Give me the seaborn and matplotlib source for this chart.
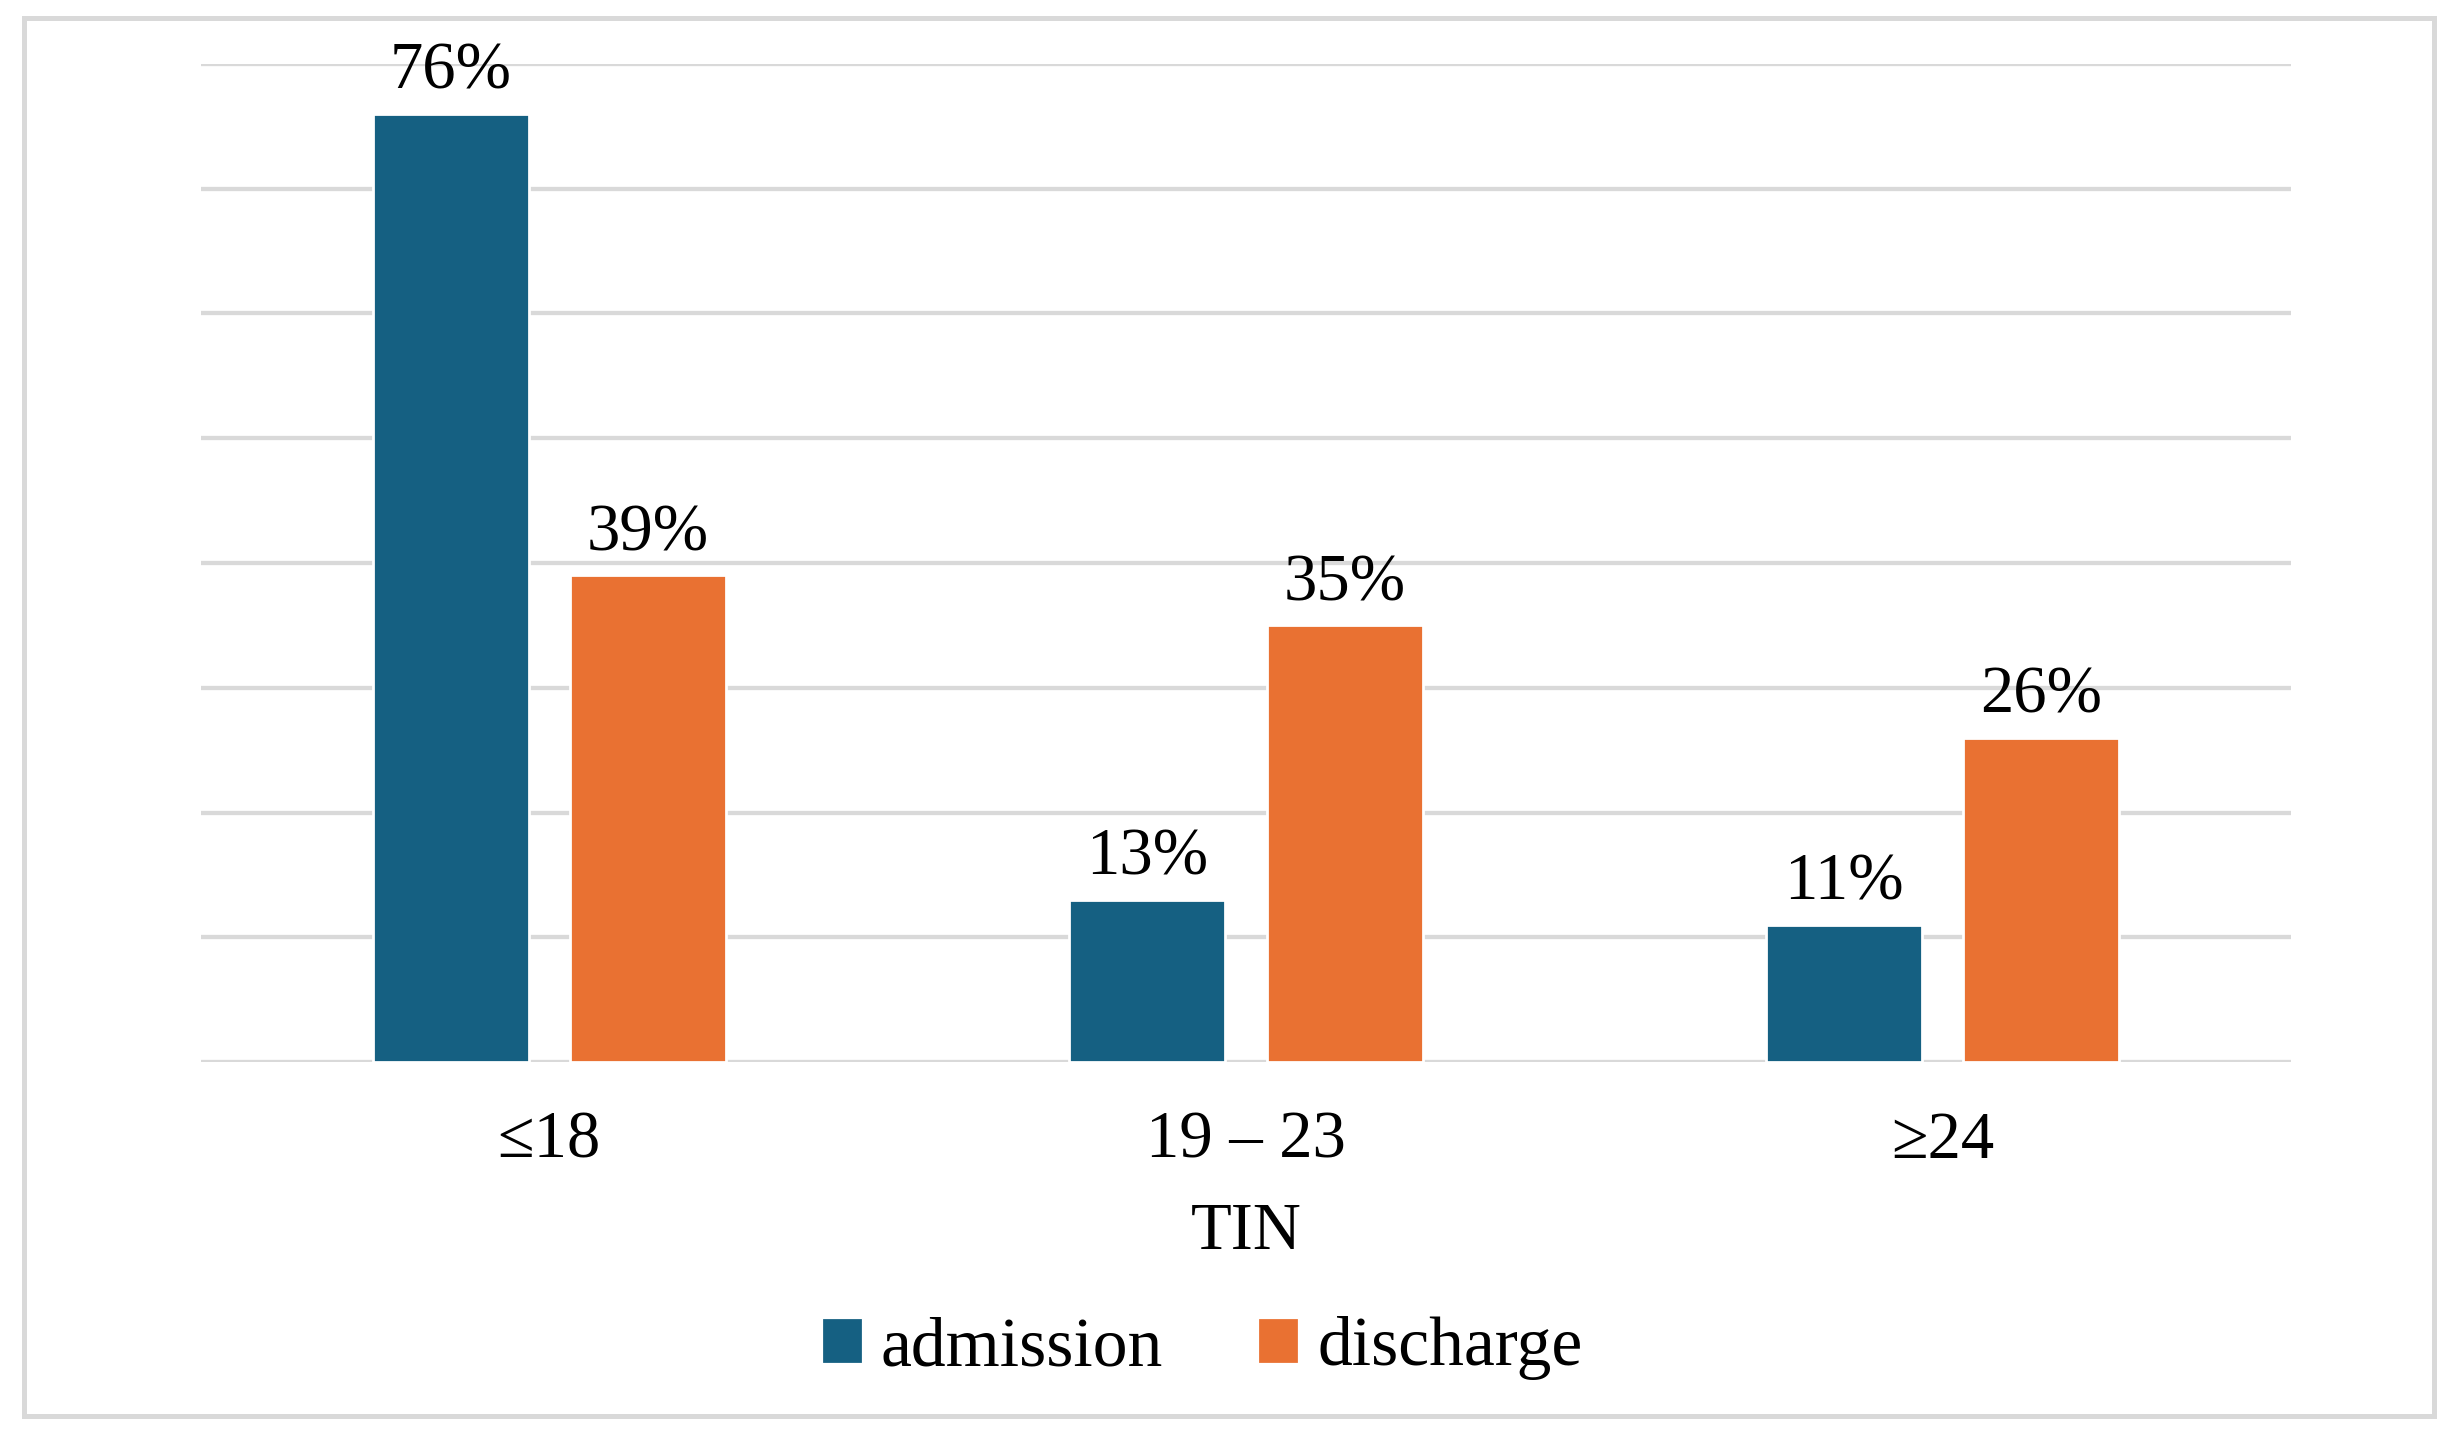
import matplotlib
matplotlib.use("Agg")
import matplotlib.pyplot as plt
import seaborn as sns
import pandas as pd
from matplotlib.patches import Rectangle

categories = ["≤18", "19 – 23", "≥24"]
admission = [76, 13, 11]
discharge = [39, 35, 26]
series_names = ["admission", "discharge"]
colors = ["#156082", "#E97132"]

df = pd.DataFrame({
    "TIN": categories * 2,
    "value": admission + discharge,
    "series": [series_names[0]] * 3 + [series_names[1]] * 3,
})

sns.set_theme(style="white")
plt.rcParams["font.family"] = ["Liberation Serif", "DejaVu Serif"]

W, H, DPI = 2460, 1437, 200
fig = plt.figure(figsize=(W / DPI, H / DPI), dpi=DPI)
ax = fig.add_axes([201 / W, 1 - 1062 / H, (2291 - 201) / W, (1062 - 64) / H])

sns.barplot(data=df, x="TIN", y="value", hue="series", palette=colors,
            width=0.566, gap=0.208, ax=ax, legend=False, saturation=1)

ax.set_ylim(0, 80)
ax.set_xlim(-0.5, 2.5)
ax.set_yticks(range(0, 81, 10))
ax.yaxis.grid(True, color="#D9D9D9", linewidth=1.55)
ax.set_axisbelow(True)
ax.tick_params(axis="y", left=False, labelleft=False)
ax.tick_params(axis="x", length=0, pad=17.5, labelsize=24, colors="black")
for s in ax.spines.values():
    s.set_visible(False)
ax.set_ylabel("")
ax.set_xlabel("TIN", fontsize=24, labelpad=11, color="black")

for cont in ax.containers:
    ax.bar_label(cont, fmt="{:.0f}%", padding=4, fontsize=24, color="black")

handles = [Rectangle((0, 0), 1, 1, color=c) for c in colors]
leg = fig.legend(handles, series_names, loc="center", ncol=2,
                 bbox_to_anchor=(1203 / W, 1 - 1348 / H), frameon=False,
                 fontsize=25, handlelength=0.52, handleheight=0.52,
                 handletextpad=0.3, columnspacing=1.4)
for t in leg.get_texts():
    t.set_color("black")

fig.patches.append(Rectangle((24 / W, 1 - 1416 / H), (2434 - 24) / W, (1416 - 17.5) / H,
                             transform=fig.transFigure, fill=False,
                             edgecolor="#D9D9D9", linewidth=1.8))

fig.savefig("out.png", dpi=DPI, facecolor="white")
